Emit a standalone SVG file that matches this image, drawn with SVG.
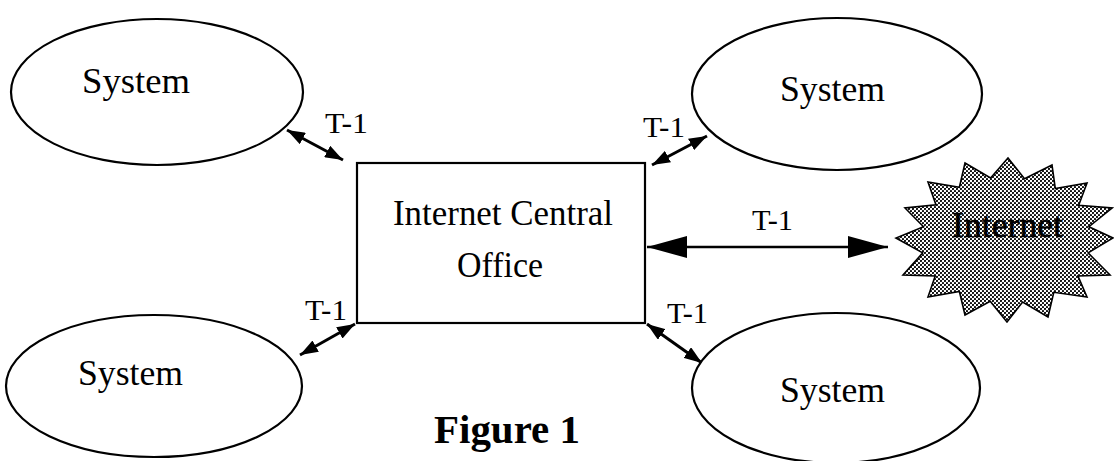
<svg xmlns="http://www.w3.org/2000/svg" width="1114" height="461" viewBox="0 0 1114 461">
  <style>
    .shape { fill: #ffffff; stroke: #000000; stroke-width: 2.2; }
    .lbl { font-family: "Liberation Serif", "Times New Roman", serif; fill: #000000; }
    .sys { font-size: 36px; }
    .t1 { font-size: 29px; }
    .link { stroke: #000000; stroke-width: 3; fill: none; }
    .trunk { stroke: #000000; stroke-width: 2.5; fill: none; }
  </style>
  <defs>
    <marker id="tip" markerUnits="userSpaceOnUse" markerWidth="18" markerHeight="13" refX="18" refY="6.5" orient="auto-start-reverse">
      <path d="M0,0 L18,6.5 L0,13 z" fill="#000000"/>
    </marker>
    <marker id="bigTip" markerUnits="userSpaceOnUse" markerWidth="40" markerHeight="22" refX="40" refY="11" orient="auto-start-reverse">
      <path d="M0,0 L40,11 L0,22 z" fill="#000000"/>
    </marker>
    <pattern id="dots" patternUnits="userSpaceOnUse" width="4" height="4">
      <rect width="4" height="4" fill="#ffffff"/>
      <circle cx="1" cy="1" r="1.1" fill="#000000"/>
      <circle cx="3" cy="3" r="1.1" fill="#000000"/>
    </pattern>
  </defs>

  <!-- T-1 links -->
  <g id="connectors">
    <line class="link" x1="287" y1="130" x2="343" y2="160" marker-start="url(#tip)" marker-end="url(#tip)"/>
    <line class="link" x1="652" y1="165" x2="707" y2="136" marker-start="url(#tip)" marker-end="url(#tip)"/>
    <line class="link" x1="355" y1="324" x2="300" y2="355" marker-start="url(#tip)" marker-end="url(#tip)"/>
    <line class="link" x1="647" y1="324" x2="702" y2="363" marker-start="url(#tip)" marker-end="url(#tip)"/>
    <line class="trunk" x1="647" y1="247" x2="888" y2="247" marker-start="url(#bigTip)" marker-end="url(#bigTip)"/>
    <text class="lbl t1" x="325" y="133" textLength="43" lengthAdjust="spacingAndGlyphs">T-1</text>
    <text class="lbl t1" x="643" y="137" textLength="42" lengthAdjust="spacingAndGlyphs">T-1</text>
    <text class="lbl t1" x="752" y="230" textLength="41" lengthAdjust="spacingAndGlyphs">T-1</text>
    <text class="lbl t1" x="305" y="320" textLength="42" lengthAdjust="spacingAndGlyphs">T-1</text>
    <text class="lbl t1" x="667" y="323" textLength="41" lengthAdjust="spacingAndGlyphs">T-1</text>
  </g>

  <g id="system-top-left">
    <ellipse class="shape" cx="157" cy="92" rx="146" ry="73"/>
    <text class="lbl sys" x="82" y="93" textLength="108" lengthAdjust="spacingAndGlyphs">System</text>
  </g>

  <g id="system-top-right">
    <ellipse class="shape" cx="837" cy="94" rx="145" ry="76"/>
    <text class="lbl sys" x="780" y="101" textLength="105" lengthAdjust="spacingAndGlyphs">System</text>
  </g>

  <g id="system-bottom-left">
    <ellipse class="shape" cx="154" cy="386" rx="148" ry="71"/>
    <text class="lbl sys" x="78" y="385" textLength="105" lengthAdjust="spacingAndGlyphs">System</text>
  </g>

  <g id="system-bottom-right">
    <ellipse class="shape" cx="836" cy="388" rx="144" ry="75"/>
    <text class="lbl sys" x="780" y="402" textLength="105" lengthAdjust="spacingAndGlyphs">System</text>
  </g>

  <g id="central-office">
    <rect class="shape" x="357" y="163" width="288" height="160" stroke-width="2.6"/>
    <text class="lbl" font-size="35" x="393" y="225" textLength="220" lengthAdjust="spacingAndGlyphs">Internet Central</text>
    <text class="lbl" font-size="35" x="457" y="277" textLength="86" lengthAdjust="spacingAndGlyphs">Office</text>
  </g>

  <g id="internet">
    <polygon fill="url(#dots)" stroke="#000000" stroke-width="1.6" stroke-linejoin="miter"
      points="965,163 990.6,178 1008,158 1024.5,178.8 1052,165 1055.3,188.5 1087,183 1078.7,205.3 1112,208 1088.9,226.7 1113,238 1088.1,252.9 1110,275 1077.9,275.9 1087,297 1053.8,292.3 1048,317 1022.6,302 1007,322 990.2,301.2 965,315 959.4,291.5 928,297 935.2,275.9 903,275 922.7,252.9 896,238 923.5,226.7 905,208 936,204.9 928,182 959.4,187.3"/>
    <text class="lbl" font-size="36" x="952" y="237" textLength="111" lengthAdjust="spacingAndGlyphs" stroke="#000000" stroke-width="0.6">Internet</text>
  </g>

  <text class="lbl" font-size="41" font-weight="bold" x="434" y="443" textLength="146" lengthAdjust="spacingAndGlyphs">Figure 1</text>
</svg>
